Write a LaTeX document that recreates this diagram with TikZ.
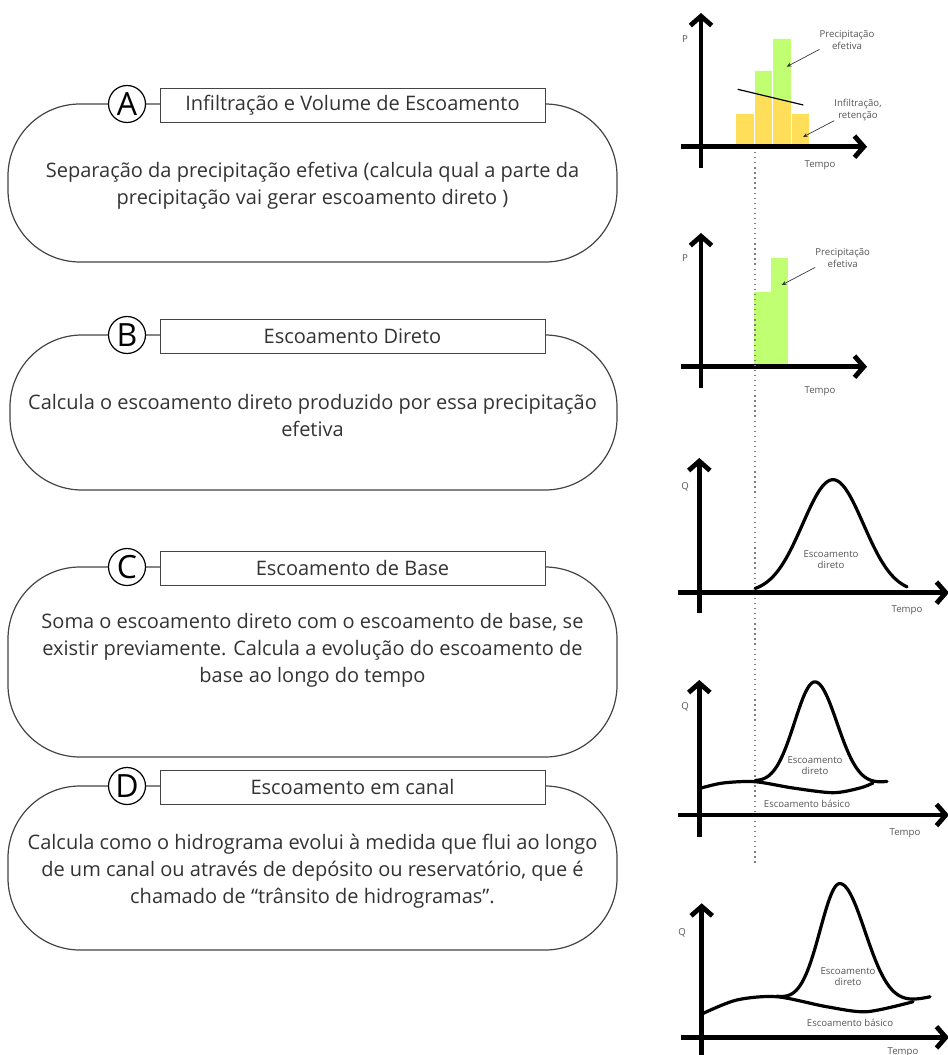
\documentclass[tikz,border=0pt]{standalone}
\usepackage{fontspec}
\setmainfont{Open Sans}
\usetikzlibrary{arrows.meta}
\definecolor{ylw}{HTML}{FFDE59}
\definecolor{grn}{HTML}{C1FF72}
\definecolor{txt}{HTML}{333333}
\definecolor{edge}{HTML}{444444}
\definecolor{lbl}{HTML}{555555}
\begin{document}
\begin{tikzpicture}[x=0.75pt,y=-0.75pt,
  outline/.style={draw=edge, line width=0.9pt, rounded corners=54pt},
  letter/.style={circle, draw=black, line width=0.9pt, fill=white, minimum size=27.75pt, inner sep=0pt, text=black, font=\fontsize{24}{24}\selectfont},
  header/.style={draw=edge, line width=0.7pt, fill=white, minimum width=288.75pt, minimum height=25.5pt, inner sep=0pt, text=txt, font=\fontsize{15}{17}\selectfont},
  body/.style={align=center, text=txt, font=\fontsize{15}{20.25}\selectfont, inner sep=0pt},
  axis/.style={line width=3.6pt, -{Straight Barb[length=7pt,width=16pt]}},
  ptr/.style={draw=txt, line width=0.5pt, -{Stealth[length=3.5pt,width=3pt]}},
  small/.style={font=\fontsize{7.2}{8.4}\selectfont, text=lbl, align=center, inner sep=0pt},
  curve/.style={line width=2.4pt, line join=round, line cap=round},
  dots/.style={draw=gray, line width=0.8pt, dash pattern=on 1pt off 2.8pt},
  sep/.style={draw=white, line width=0.6pt}
]
\useasboundingbox (0,0) rectangle (948,1055);

% ---------- Left boxes ----------
\draw[outline] (8,104) rectangle (617,262);
\node[letter] (la) at (127,104) {A};
\node[header] (ha) at (352.5,105) {Infiltração e Volume de Escoamento};
\node[body] (ba) at (312.5,186) {Separação da precipitação efetiva (calcula qual a parte da\\precipitação vai gerar escoamento direto )};

\draw[outline] (10,335) rectangle (617,490);
\node[letter] (lb) at (127,335) {B};
\node[header] (hb) at (352.5,336) {Escoamento Direto};
\node[body] (bb) at (312.5,415) {Calcula o escoamento direto produzido por essa precipitação\\efetiva};

\draw[outline] (8,567) rectangle (617,757);
\node[letter] (lc) at (127,567) {C};
\node[header] (hc) at (352.5,568) {Escoamento de Base};
\node[body] (bc) at (312.5,650) {Soma o escoamento direto com o escoamento de base, se\\existir previamente. Calcula a evolução do escoamento de\\base ao longo do tempo};

\draw[outline] (8,786) rectangle (617,950);
\node[letter] (ld) at (127,786) {D};
\node[header] (hd) at (352.5,787) {Escoamento em canal};
\node[body] (bd) at (312.5,871) {Calcula como o hidrograma evolui à medida que flui ao longo\\de um canal ou através de depósito ou reservatório, que é\\chamado de “trânsito de hidrogramas”.};

% ---------- Chart 1 ----------
\fill[ylw] (736,114) rectangle (754,147);
\fill[grn] (754,71) -- (772.7,71) -- (772.7,97.7) -- (754,93.2) -- cycle;
\fill[ylw] (754,93.2) -- (772.7,97.7) -- (772.7,147) -- (754,147) -- cycle;
\fill[grn] (772.7,39) -- (791,39) -- (791,102.1) -- (772.7,97.7) -- cycle;
\fill[ylw] (772.7,97.7) -- (791,102.1) -- (791,147) -- (772.7,147) -- cycle;
\fill[ylw] (791,114) rectangle (809,147);
\draw[sep] (754,71) -- (754,147);
\draw[sep] (772.7,39) -- (772.7,147);
\draw[sep] (791,39) -- (791,147);
\draw[line width=0.9pt] (737.7,89.3) -- (803.3,105);
\draw[axis] (701,168) -- (701,13);
\draw[axis] (681,146.7) -- (867,146.7);
\node[small] (p1) at (685,39) {P};
\node[small] (t1) at (820,165) {Tempo};
\node[small] (pe1) at (847,40) {Precipitação\\efetiva};
\coordinate (g1) at (786.7,66.7);
\draw[ptr] (pe1.south west) -- (g1);
\node[small] (in1) at (858,110) {Infiltração,\\retenção};
\coordinate (y1) at (803,137);
\draw[ptr] (in1.south west) -- (y1);

% ---------- Chart 2 ----------
\fill[grn] (754,291.7) rectangle (770.7,366.7);
\fill[grn] (770.7,258.3) rectangle (788.3,366.7);
\draw[axis] (701,388) -- (701,233);
\draw[axis] (681,366.7) -- (867,366.7);
\node[small] (p2) at (685,258) {P};
\node[small] (t2) at (820,391) {Tempo};
\node[small] (pe2) at (842.7,258) {Precipitação\\efetiva};
\coordinate (g2) at (781.7,285);
\draw[ptr] (pe2.south west) -- (g2);

% ---------- dotted guide ----------
\draw[dots] (755,152) -- (755,865);

% ---------- Chart 3 ----------
\draw[axis] (699.3,613) -- (699.3,458);
\draw[axis] (678,592.7) -- (949,592.7);
\draw[curve] plot[domain=755:907, samples=100, smooth] (\x, {592.7-113*exp(-((\x-833)^2)/1850)});
\node[small] (p3) at (685,487) {Q};
\node[small] (t3) at (907,610) {Tempo};
\node[small] (e3) at (831,560) {Escoamento\\direto};

% ---------- Chart 4 ----------
\draw[axis] (699.3,836.7) -- (699.3,680);
\draw[axis] (678,815) -- (949,815);
\draw[curve] plot[smooth] coordinates {(700,788.3) (723,783) (755,781.7) (793,788) (833,792.7) (860,788) (873,783)};
\draw[curve] plot[domain=755:815, samples=60, smooth] (\x, {782+8*sin(1.3636*(\x-755))-108*exp(-((\x-815)^2)/856)})
  -- plot[domain=815:887, samples=60, smooth] (\x, {782+8*sin(1.3636*(\x-755))-108*exp(-((\x-815)^2)/1000)});
\node[small] (p4) at (685,707) {Q};
\node[small] (t4) at (905,833) {Tempo};
\node[small] (e4) at (815,766) {Escoamento\\direto};
\node[small] (b4) at (807,804) {Escoamento básico};

% ---------- Chart 5 ----------
\draw[axis] (701.7,1062) -- (701.7,903.3);
\draw[axis] (681,1037.3) -- (949,1037.3);
\draw[curve] plot[smooth] coordinates {(703.3,1013.3) (736.7,1000) (776.7,996.7) (826.7,1006.7) (866.7,1011.7) (913,1001.7)};
\draw[curve] plot[domain=776.7:840, samples=60, smooth] (\x, {997+12*sin(1.1742*(\x-776.7))-125*exp(-((\x-840)^2)/800)})
  -- plot[domain=840:930, samples=60, smooth] (\x, {997+12*sin(1.1742*(\x-776.7))-125*exp(-((\x-840)^2)/1300)});
\node[small] (p5) at (682,933) {Q};
\node[small] (t5) at (903,1052) {Tempo};
\node[small] (e5) at (848,977) {Escoamento\\direto};
\node[small] (b5) at (850,1023) {Escoamento básico};
\end{tikzpicture}
\end{document}
